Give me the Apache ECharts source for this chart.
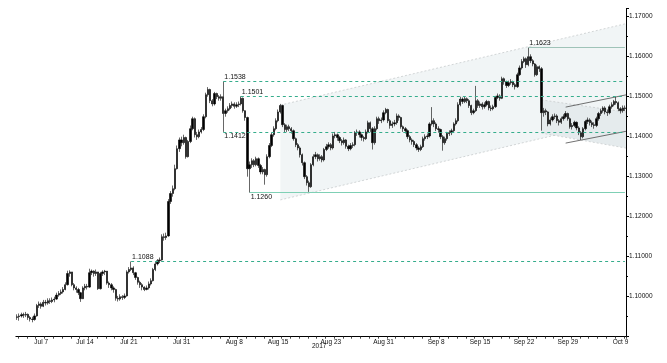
<!DOCTYPE html>
<html><head><meta charset="utf-8">
<script src="https://cdn.jsdelivr.net/npm/echarts@6/dist/echarts.min.js"></script>
<style>html,body{margin:0;padding:0;background:#fff}#c{width:667px;height:363px}</style>
</head><body><div id="c"></div>
<script>
// trading days shown on the chart
const days = ['Jul 4','Jul 5','Jul 6','Jul 7','Jul 10','Jul 11','Jul 12','Jul 13','Jul 14','Jul 17','Jul 18','Jul 19','Jul 20','Jul 21','Jul 24','Jul 25','Jul 26','Jul 27','Jul 28','Jul 31','Aug 1','Aug 2','Aug 3','Aug 4','Aug 7','Aug 8','Aug 9','Aug 10','Aug 11','Aug 14','Aug 15','Aug 16','Aug 17','Aug 18','Aug 21','Aug 22','Aug 23','Aug 24','Aug 25','Aug 28','Aug 29','Aug 30','Aug 31','Sep 1','Sep 4','Sep 5','Sep 6','Sep 7','Sep 8','Sep 11','Sep 12','Sep 13','Sep 14','Sep 15','Sep 18','Sep 19','Sep 20','Sep 21','Sep 22','Sep 25','Sep 26','Sep 27','Sep 28','Sep 29','Oct 2','Oct 3','Oct 4','Oct 5','Oct 6','Oct 9','Oct 10'];
const sessions = ['00:00','06:00','12:00','18:00'];
const firstSession = 3; // first candle: Jul 4 18:00
const tickLabels = ['Jul 7','Jul 14','Jul 21','Jul 31','Aug 8','Aug 15','Aug 23','Aug 31','Sep 8','Sep 15','Sep 22','Sep 29','Oct 9'];

// 6-hour candles, prices in 1/10000 (11470 = 1.1470); open = previous close
const firstOpen = 10948;
const closes = [
10950,
10952,10955,10954,10956, 10948,10944,10943,10952, 10978,10982,10976,10986, 10984,10990,10988,10992,
10994,11004,11008,11012, 11018,11030,11058,11062, 11030,11022,11018,11010, 10995,11022,11026,11024,
11060,11064,11058,11062, 11020,11058,11062,11064, 11034,11030,11022,11018, 10996,10994,11000,10998,
11002,11062,11068,11072, 11060,11048,11036,11030, 11024,11018,11022,11032, 11040,11068,11082,11090,
11092,11150,11148,11152, 11238,11258,11270,11320, 11370,11392,11385,11398, 11350,11388,11420,11445,
11405,11400,11412,11418, 11450,11505,11518,11490, 11482,11508,11500,11496, 11500,11458,11465,11470,
11478,11482,11476,11480, 11482,11496,11465,11448, 11320,11330,11340,11330, 11345,11328,11312,11318,
11305,11350,11378,11405, 11420,11440,11462,11478, 11430,11418,11425,11420, 11415,11395,11380,11372,
11355,11335,11300,11285, 11275,11330,11350,11355, 11345,11350,11342,11368, 11375,11380,11372,11402,
11405,11398,11390,11385, 11392,11376,11370,11378, 11380,11410,11412,11405, 11398,11395,11412,11435,
11420,11385,11420,11445, 11440,11442,11460,11468, 11440,11428,11432,11435, 11452,11448,11425,11420,
11415,11400,11392,11388, 11380,11372,11368,11375, 11395,11400,11402,11432, 11440,11432,11420,11418,
11400,11385,11395,11408, 11410,11415,11432,11440, 11480,11494,11488,11495, 11490,11478,11460,11465,
11490,11478,11482,11475, 11480,11488,11472,11470, 11475,11498,11502,11496, 11545,11538,11528,11535,
11538,11530,11525,11555, 11572,11588,11595,11580, 11600,11590,11582,11555, 11575,11570,11460,11465,
11462,11432,11442,11450, 11452,11440,11436,11445, 11450,11458,11445,11425, 11428,11436,11422,11410,
11400,11420,11438,11442, 11435,11430,11428,11445, 11458,11465,11472,11462, 11460,11475,11480,11488,
11485,11470,11465,11472,
11470.4];
const highs = [
10956,
10958,10960,10960,10962, 10958,10952,10950,10958, 10982,10988,10986,10992, 10992,10996,10996,10998,
11000,11010,11014,11018, 11024,11036,11065,11066, 11062,11034,11026,11022, 11012,11026,11032,11032,
11070,11068,11066,11068, 11062,11062,11066,11067, 11064,11038,11034,11026, 11020,11002,11006,11004,
11008,11066,11074,11088, 11076,11062,11050,11040, 11034,11026,11028,11038, 11046,11072,11088,11094,
11098,11156,11158,11160, 11244,11264,11278,11330, 11378,11398,11400,11405, 11400,11392,11428,11450,
11448,11412,11418,11424, 11456,11510,11524,11520, 11494,11512,11510,11504, 11506,11538,11470,11476,
11484,11488,11486,11486, 11488,11501,11498,11466, 11450,11338,11346,11344, 11350,11348,11332,11324,
11320,11356,11384,11410, 11426,11446,11468,11482, 11480,11434,11430,11430, 11424,11418,11398,11384,
11376,11358,11338,11304, 11290,11334,11356,11362, 11358,11356,11354,11372, 11382,11386,11384,11408,
11412,11408,11402,11394, 11398,11394,11380,11384, 11386,11414,11418,11416, 11408,11402,11418,11440,
11438,11424,11426,11450, 11450,11448,11466,11472, 11470,11444,11438,11442, 11458,11456,11450,11428,
11424,11418,11404,11396, 11392,11384,11376,11380, 11400,11406,11408,11436, 11474,11446,11436,11426,
11420,11404,11400,11412, 11416,11420,11436,11446, 11486,11500,11498,11500, 11498,11494,11480,11470,
11527,11494,11488,11486, 11486,11492,11490,11478, 11480,11502,11508,11506, 11550,11548,11540,11540,
11544,11540,11534,11560, 11578,11594,11600,11598, 11623,11606,11594,11584, 11580,11578,11574,11472,
11470,11464,11448,11456, 11458,11456,11444,11450, 11456,11464,11460,11448, 11434,11440,11438,11426,
11414,11424,11442,11448, 11446,11440,11436,11450, 11462,11470,11476,11476, 11468,11480,11486,11492,
11499,11488,11474,11478,
11478];
const lows = [
10942,
10940,10948,10947,10949, 10942,10938,10936,10940, 10950,10972,10970,10974, 10978,10980,10982,10984,
10986,10992,11000,11004, 11008,11016,11028,11050, 11026,11016,11010,11004, 10987,10994,11016,11018,
11022,11054,11050,11052, 11017,11018,11052,11054, 11030,11022,11016,11010, 10990,10988,10990,10992,
10994,11000,11058,11064, 11054,11042,11030,11022, 11016,11014,11016,11018, 11028,11038,11064,11078,
11084,11090,11140,11142, 11150,11232,11250,11266, 11318,11362,11376,11380, 11345,11348,11384,11416,
11398,11392,11396,11408, 11414,11446,11500,11484, 11476,11478,11494,11490, 11490,11412,11450,11460,
11466,11472,11470,11472, 11474,11478,11460,11440, 11300,11260,11322,11324, 11326,11322,11306,11306,
11280,11300,11346,11374, 11400,11416,11436,11458, 11424,11410,11412,11414, 11408,11390,11374,11366,
11348,11328,11294,11278, 11262,11272,11326,11344, 11338,11340,11336,11338, 11364,11370,11366,11368,
11396,11390,11384,11378, 11380,11370,11364,11366, 11372,11376,11402,11398, 11390,11388,11392,11408,
11412,11368,11380,11416, 11432,11434,11438,11456, 11434,11420,11422,11426, 11430,11440,11420,11412,
11408,11394,11386,11380, 11374,11366,11362,11364, 11372,11390,11394,11398, 11428,11424,11414,11410,
11394,11365,11380,11390, 11402,11404,11410,11428, 11436,11476,11482,11484, 11484,11472,11454,11456,
11462,11472,11472,11468, 11470,11476,11466,11464, 11466,11472,11494,11490, 11494,11530,11522,11524,
11530,11524,11518,11522, 11552,11568,11584,11572, 11576,11584,11576,11550, 11552,11562,11415,11450,
11454,11426,11428,11438, 11444,11434,11428,11432, 11440,11446,11440,11420, 11418,11424,11416,11404,
11392,11396,11416,11432, 11428,11424,11420,11424, 11440,11452,11460,11456, 11452,11456,11470,11476,
11480,11464,11458,11460,
11464];

// horizontal levels
const levels = [
  {price: 1.1538, from: 'Aug 7 06:00',  kind: 'dash',  side: 'top'},
  {price: 1.1501, from: 'Aug 9 06:00',  kind: 'dash',  side: 'top'},
  {price: 1.1412, from: 'Aug 7 06:00',  kind: 'dash',  side: 'bottom'},
  {price: 1.1088, from: 'Jul 21 18:00', kind: 'dash',  side: 'top'},
  {price: 1.1260, from: 'Aug 10 06:00', kind: 'solid', side: 'bottom'},
  {price: 1.1623, from: 'Sep 25 00:00', kind: 'grey',  side: 'top'}
];
const lastPrice = 1.14704;

// trend channels: value at start candle and at last candle
const channels = [
  {from: 'Aug 15 18:00', upper: [1.1479, 1.1682], lower: [1.1242, 1.1445], kind: 'wide'},
  {from: 'Sep 26 12:00', upper: [1.1492, 1.1462], lower: [1.1409, 1.1372], kind: 'wedge'},
  {from: 'Sep 29 06:00', upper: [1.1474, 1.1504], lower: [1.1384, 1.1413], kind: 'solid'}
];

// ---------- build ----------
const cats = [];
for (let q = firstSession; q < firstSession + closes.length; q++) cats.push(days[q >> 2] + ' ' + sessions[q % 4]);
const ohlc = closes.map((c, i) => [(i ? closes[i - 1] : firstOpen) / 1e4, c / 1e4, lows[i] / 1e4, highs[i] / 1e4]);
const labelSet = new Set(tickLabels.map(d => d + ' 12:00'));
const lastIdx = cats.length - 1;

const levelStyle = {
  dash:  {color: '#36ad8c', width: 1, type: [3, 3], opacity: 1},
  solid: {color: '#7fd0b5', width: 1.2, type: 'solid', opacity: 1},
  grey:  {color: '#9fc3b8', width: 1, type: 'solid', opacity: 1}
};
const chanStyle = {
  wide:  {fill: '#f1f5f6', stroke: '#c8cccd', width: 0.8, dash: [2, 2]},
  wedge: {fill: '#e5ebed', stroke: '#c8cccd', width: 0.8, dash: [2, 2]},
  solid: {fill: null, stroke: '#4d4d4d', width: 0.8, dash: null}
};
const FONT = 'Liberation Sans';

const markData = levels.map(l => [
  {coord: [cats.indexOf(l.from), l.price], lineStyle: levelStyle[l.kind],
   label: {show: true, formatter: l.price.toFixed(4), position: l.side === 'top' ? 'insideStartTop' : 'insideStartBottom',
           distance: 1, fontSize: 7, color: '#111', fontFamily: FONT}},
  {coord: [lastIdx, l.price]}
]);
markData.push({yAxis: lastPrice, lineStyle: {width: 0, opacity: 0},
  label: {show: true, position: 'end', formatter: lastPrice.toFixed(5), backgroundColor: '#000', color: '#fff',
          padding: [2, 2, 1, 2], fontSize: 6.5, fontFamily: FONT, distance: 1}});

const chart = echarts.init(document.getElementById('c'), null, {renderer: 'canvas'});
chart.setOption({
  animation: false,
  grid: {left: 15.9, right: 41, top: 8.7, bottom: 26.3},
  xAxis: {
    type: 'category', data: cats, boundaryGap: true,
    axisLine: {lineStyle: {color: '#000', width: 1}},
    axisTick: {show: true, length: 2, interval: (i, v) => v.endsWith('00:00'), lineStyle: {color: '#444'}},
    axisLabel: {interval: (i, v) => labelSet.has(v), formatter: v => v.split(' ').slice(0, 2).join(' '),
                fontSize: 6.5, color: '#111', margin: 2, fontFamily: FONT},
    splitLine: {show: false}
  },
  yAxis: {
    type: 'value', position: 'right', min: 1.09, max: 1.172, interval: 0.01,
    axisLine: {show: true, lineStyle: {color: '#000', width: 1}},
    axisTick: {show: true, length: 3, lineStyle: {color: '#000'}},
    minorTick: {show: true, splitNumber: 2, length: 2, lineStyle: {color: '#000'}},
    splitLine: {show: false}, minorSplitLine: {show: false},
    axisLabel: {formatter: v => v.toFixed(5), fontSize: 6.5, color: '#111', margin: 3, fontFamily: FONT,
                showMinLabel: false, showMaxLabel: false}
  },
  graphic: [{type: 'text', left: 312, top: 343, style: {text: '2017', fontSize: 6.5, fill: '#111', fontFamily: FONT}}],
  series: [
    {
      type: 'custom', z: 1, silent: true,
      data: channels.map((c, k) => [k, 1.1]),
      renderItem: (params, api) => {
        const c = channels[params.dataIndex];
        const st = chanStyle[c.kind];
        const cs = params.coordSys;
        const xr = cs.x + cs.width;
        const i0 = cats.indexOf(c.from);
        const ext = (a, b) => { const t = (xr - a[0]) / (b[0] - a[0]); return [xr, a[1] + t * (b[1] - a[1])]; };
        const u0 = api.coord([i0, c.upper[0]]), u1 = ext(u0, api.coord([lastIdx, c.upper[1]]));
        const l0 = api.coord([i0, c.lower[0]]), l1 = ext(l0, api.coord([lastIdx, c.lower[1]]));
        const ls = {stroke: st.stroke, lineWidth: st.width, lineDash: st.dash || null, fill: null};
        const ch = [];
        if (st.fill) ch.push({type: 'polygon', shape: {points: [u0, u1, l1, l0]}, style: {fill: st.fill}});
        ch.push({type: 'line', shape: {x1: u0[0], y1: u0[1], x2: u1[0], y2: u1[1]}, style: ls});
        ch.push({type: 'line', shape: {x1: l0[0], y1: l0[1], x2: l1[0], y2: l1[1]}, style: ls});
        return {type: 'group', children: ch};
      }
    },
    {
      type: 'candlestick', z: 3, data: ohlc, barWidth: 1.8,
      itemStyle: {color: '#000', color0: '#000', borderColor: '#000', borderColor0: '#000', borderWidth: 0.6},
      markLine: {symbol: ['none', 'none'], silent: true, animation: false, data: markData}
    }
  ]
});
</script></body></html>
